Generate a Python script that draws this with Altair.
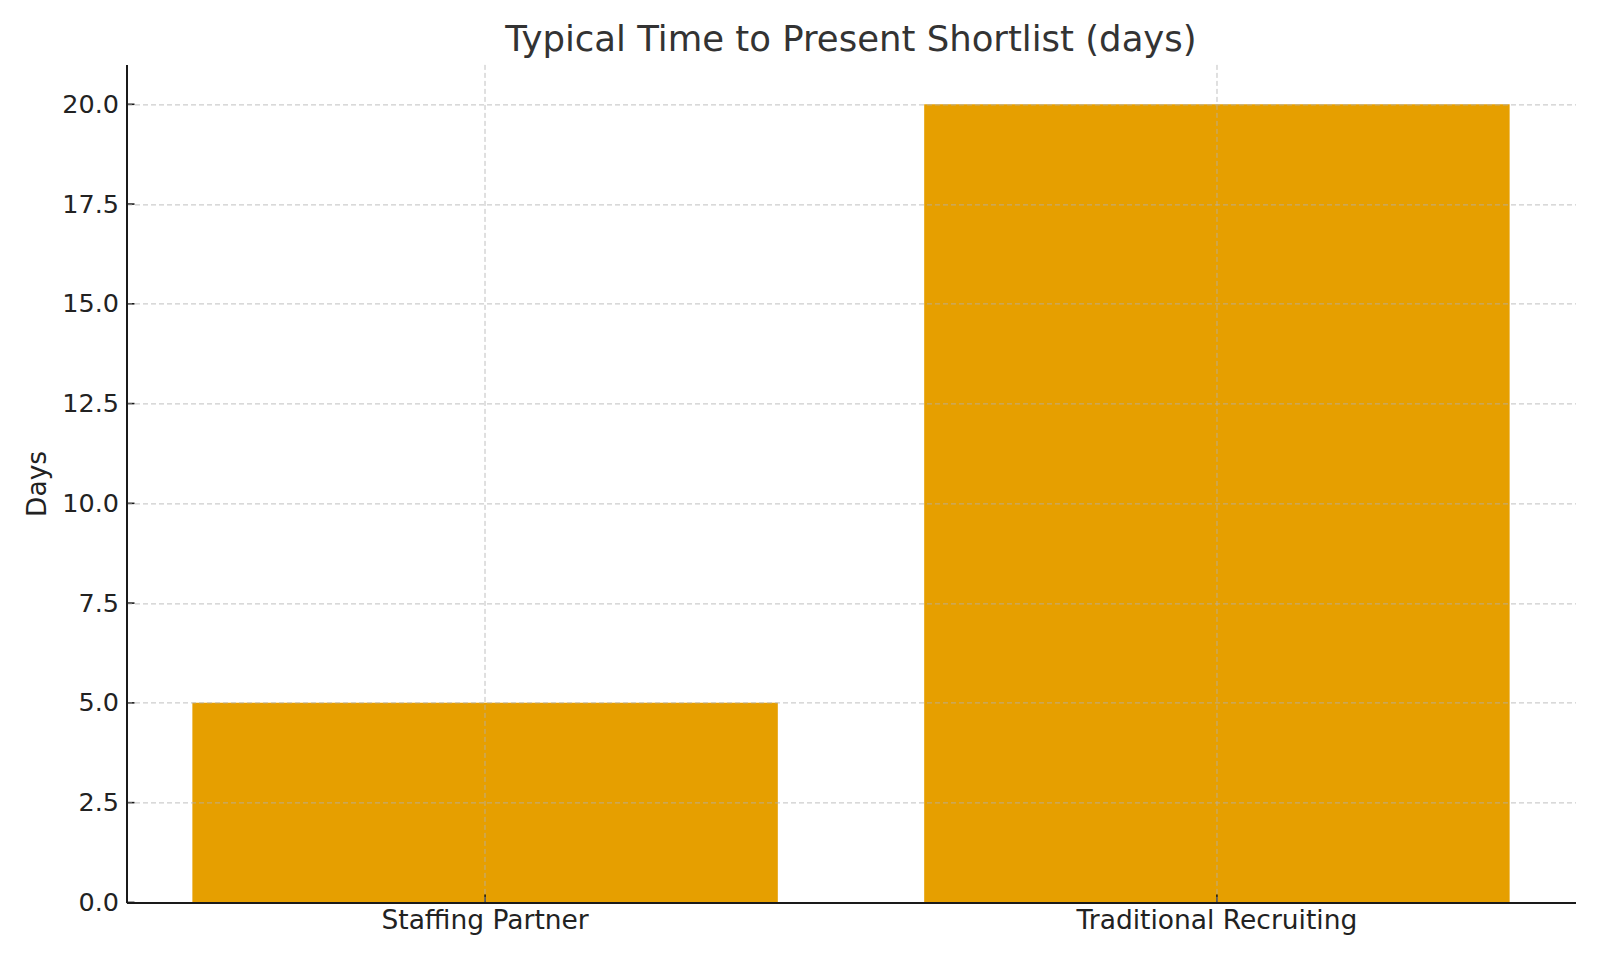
import altair as alt
import pandas as pd

categories = ["Staffing Partner", "Traditional Recruiting"]
days = [5, 20]
y_ticks = [0.0, 2.5, 5.0, 7.5, 10.0, 12.5, 15.0, 17.5, 20.0]

FONT = "DejaVu Sans"
W, H = 1449, 838

bars_df = pd.DataFrame({"category": categories, "days": days})
ytick_df = pd.DataFrame({"days": y_ticks})
xtick_df = pd.DataFrame({"category": categories})

grid_kw = dict(grid=True, gridColor="#b0b0b0", gridOpacity=0.8, gridDash=[5, 3], gridWidth=1)

x_enc = alt.X(
    "category:N",
    sort=categories,
    scale=alt.Scale(paddingInner=0.2, paddingOuter=0.09),
    axis=alt.Axis(
        title=None, labelAngle=0, labelFontSize=26.5, labelFont=FONT, labelColor="#222222",
        labelPadding=5, labelLimit=0, ticks=False, domainColor="#1a1a1a", domainWidth=2,
        bandPosition=0.5, zindex=1, **grid_kw,
    ),
)
y_enc = alt.Y(
    "days:Q",
    scale=alt.Scale(domain=[0, 21], nice=False, zero=True),
    axis=alt.Axis(
        title="Days", values=y_ticks, format=".1f", labelFontSize=25.5, labelFont=FONT,
        labelColor="#222222", labelPadding=8, ticks=False, domainColor="#1a1a1a",
        domainWidth=2, titleFont=FONT, titleFontSize=26.5, titleFontWeight="normal",
        titleColor="#222222", titleAngle=-90, titleX=-89, titleY=H / 2,
        titleAlign="center", titleBaseline="middle", zindex=1, **grid_kw,
    ),
)

bars = alt.Chart(bars_df).mark_bar(color="#E69F00", cornerRadius=0).encode(x=x_enc, y=y_enc)

yticks = alt.Chart(ytick_df).mark_rule(color="#1a1a1a", strokeWidth=1.6).encode(
    y=alt.Y("days:Q"), x=alt.value(0), x2=alt.value(8)
)
xticks = alt.Chart(xtick_df).mark_rule(color="#1a1a1a", strokeWidth=1.6).encode(
    x=alt.X("category:N", sort=categories), y=alt.value(H - 8), y2=alt.value(H)
)

chart = (
    alt.layer(bars, yticks, xticks)
    .properties(
        width=W,
        height=H,
        autosize="none",
        background="white",
        padding={"left": 118.5, "top": 56.4, "right": 16, "bottom": 40},
        title=alt.TitleParams(
            "Typical Time to Present Shortlist (days)", font=FONT, fontSize=35.5,
            fontWeight="normal", color="#333333", anchor="middle", offset=6,
        ),
    )
    .configure_view(stroke="transparent", strokeWidth=0)
)

chart.save("out.html", embed_options={"renderer": "svg", "actions": False})
